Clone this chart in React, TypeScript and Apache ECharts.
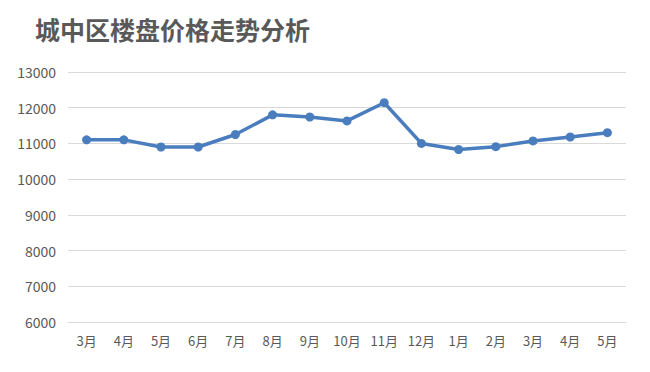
import React, { useEffect, useRef } from "react";
import * as echarts from "echarts";

const titleText = "城中区楼盘价格走势分析";
const categories = ["3月", "4月", "5月", "6月", "7月", "8月", "9月", "10月", "11月", "12月", "1月", "2月", "3月", "4月", "5月"];
const prices = [11100, 11100, 10900, 10900, 11250, 11800, 11740, 11630, 12140, 11000, 10830, 10910, 11070, 11180, 11300];
const yMin = 6000;
const yMax = 13000;
const yStep = 1000;

export default function App() {
  const ref = useRef<HTMLDivElement>(null);
  useEffect(() => {
    if (!ref.current) return;
    const chart = echarts.init(ref.current, undefined, { renderer: "svg" });
    chart.setOption({
      animation: false,
      backgroundColor: "#ffffff",
      title: {
        text: titleText,
        left: 30,
        top: 11,
        textStyle: {
          fontFamily: "Noto Sans CJK SC",
          fontSize: 25,
          fontWeight: "bold",
          color: "#595959",
        },
      },
      graphic: {
        elements: [
          {
            type: "polyline",
            z: 100,
            shape: {
              points: [
                [3.5, 3.5],
                [645.5, 3.5],
                [645.5, 366.5],
                [3.5, 366.5],
                [3.5, 3.5],
              ],
            },
            style: { fill: null, stroke: "#bfbfbf", lineWidth: 1.5 },
            silent: true,
          },
        ],
      },
      grid: { left: 68, right: 24, top: 72, bottom: 50 },
      xAxis: {
        type: "category",
        data: categories,
        boundaryGap: true,
        axisLine: { lineStyle: { color: "#d9d9d9", width: 1 } },
        axisTick: { show: false },
        axisLabel: {
          color: "#595959",
          fontSize: 13,
          fontFamily: "Noto Sans CJK SC",
          margin: 12,
          interval: 0,
        },
      },
      yAxis: {
        type: "value",
        min: yMin,
        max: yMax,
        interval: yStep,
        axisLine: { show: false },
        axisTick: { show: false },
        splitLine: { lineStyle: { color: "#d9d9d9", width: 1 } },
        axisLabel: {
          color: "#595959",
          fontSize: 14,
          fontFamily: "Noto Sans CJK SC",
          margin: 12,
          formatter: (v: number) => String(v),
        },
      },
      series: [
        {
          type: "line",
          data: prices,
          symbol: "circle",
          symbolSize: 9,
          lineStyle: { color: "#4a7dbe", width: 3.5 },
          itemStyle: { color: "#4a7dbe" },
        },
      ],
    });
    return () => chart.dispose();
  }, []);
  return <div ref={ref} style={{ width: 650, height: 372, margin: -8 }} />;
}
